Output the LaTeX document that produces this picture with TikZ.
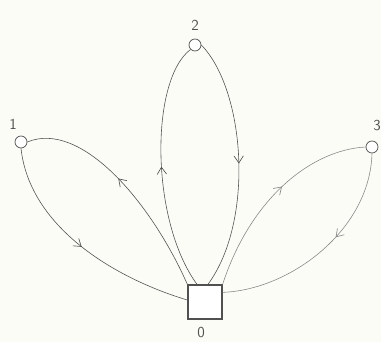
\documentclass[tikz,border=0pt]{standalone}
\usepackage{tikz}
\usetikzlibrary{arrows.meta,decorations.markings}
\definecolor{PaperBg}{RGB}{252,252,247}
\definecolor{PencilDark}{RGB}{80,80,80}
\definecolor{PencilLight}{RGB}{135,135,135}

\begin{document}
\begin{tikzpicture}[x=0.03cm,y=-0.03cm,
    cust/.style={circle,draw=PencilDark,line width=0.6pt,inner sep=0pt,minimum size=0.36cm,fill=white},
    depot/.style={rectangle,draw=PencilDark,line width=1.1pt,inner sep=0pt,minimum size=1.02cm,fill=white},
    lbl/.style={font=\sffamily\fontsize{13}{13}\selectfont,text=PencilDark,inner sep=0pt},
    route/.style={draw=PencilDark,line width=0.5pt},
    arrowat/.style={decoration={markings,
        mark=at position #1 with {\arrow{Straight Barb[length=6pt,width=8pt,line width=0.55pt]}}},
        postaction={decorate}}]
  % page and background
  \fill[PaperBg] (0,0) rectangle (381,342);
  \useasboundingbox (0,0) rectangle (381,342);

  % depot and customers (pixel coordinates, y downwards)
  \node[depot] (dep) at (205,302) {};
  \node[cust] (c1) at (21,142) {};
  \node[cust] (c2) at (195,45) {};
  \node[cust] (c3) at (372,147) {};

  % labels
  \node[lbl] (l0) at (201,333) {0};
  \node[lbl] (l1) at (13,124) {1};
  \node[lbl] (l2) at (195,25) {2};
  \node[lbl] (l3) at (377,126) {3};

  % route 0 -> 1 -> 0
  \draw[route,arrowat=0.55] (dep.north west) .. controls (150,200) and (80,120) .. (c1.east);
  \draw[route,arrowat=0.5] (c1.south) .. controls (30,230) and (120,280) .. ([yshift=0.06cm]dep.west);

  % route 0 -> 2 -> 0
  \draw[route,arrowat=0.5] ([xshift=-0.24cm]dep.north) .. controls (150,220) and (150,80) .. (c2.south west);
  \draw[route,arrowat=0.5] (c2.east) .. controls (245,90) and (255,220) .. ([xshift=0.09cm]dep.north);

  % route 0 -> 3 -> 0
  \draw[route,draw=PencilLight,arrowat=0.55] (dep.north east) .. controls (250,200) and (310,150) .. (c3.west);
  \draw[route,draw=PencilLight,arrowat=0.42] (c3.south) .. controls (370,230) and (290,290) .. ([yshift=-0.24cm]dep.north east);
\end{tikzpicture}
\end{document}
